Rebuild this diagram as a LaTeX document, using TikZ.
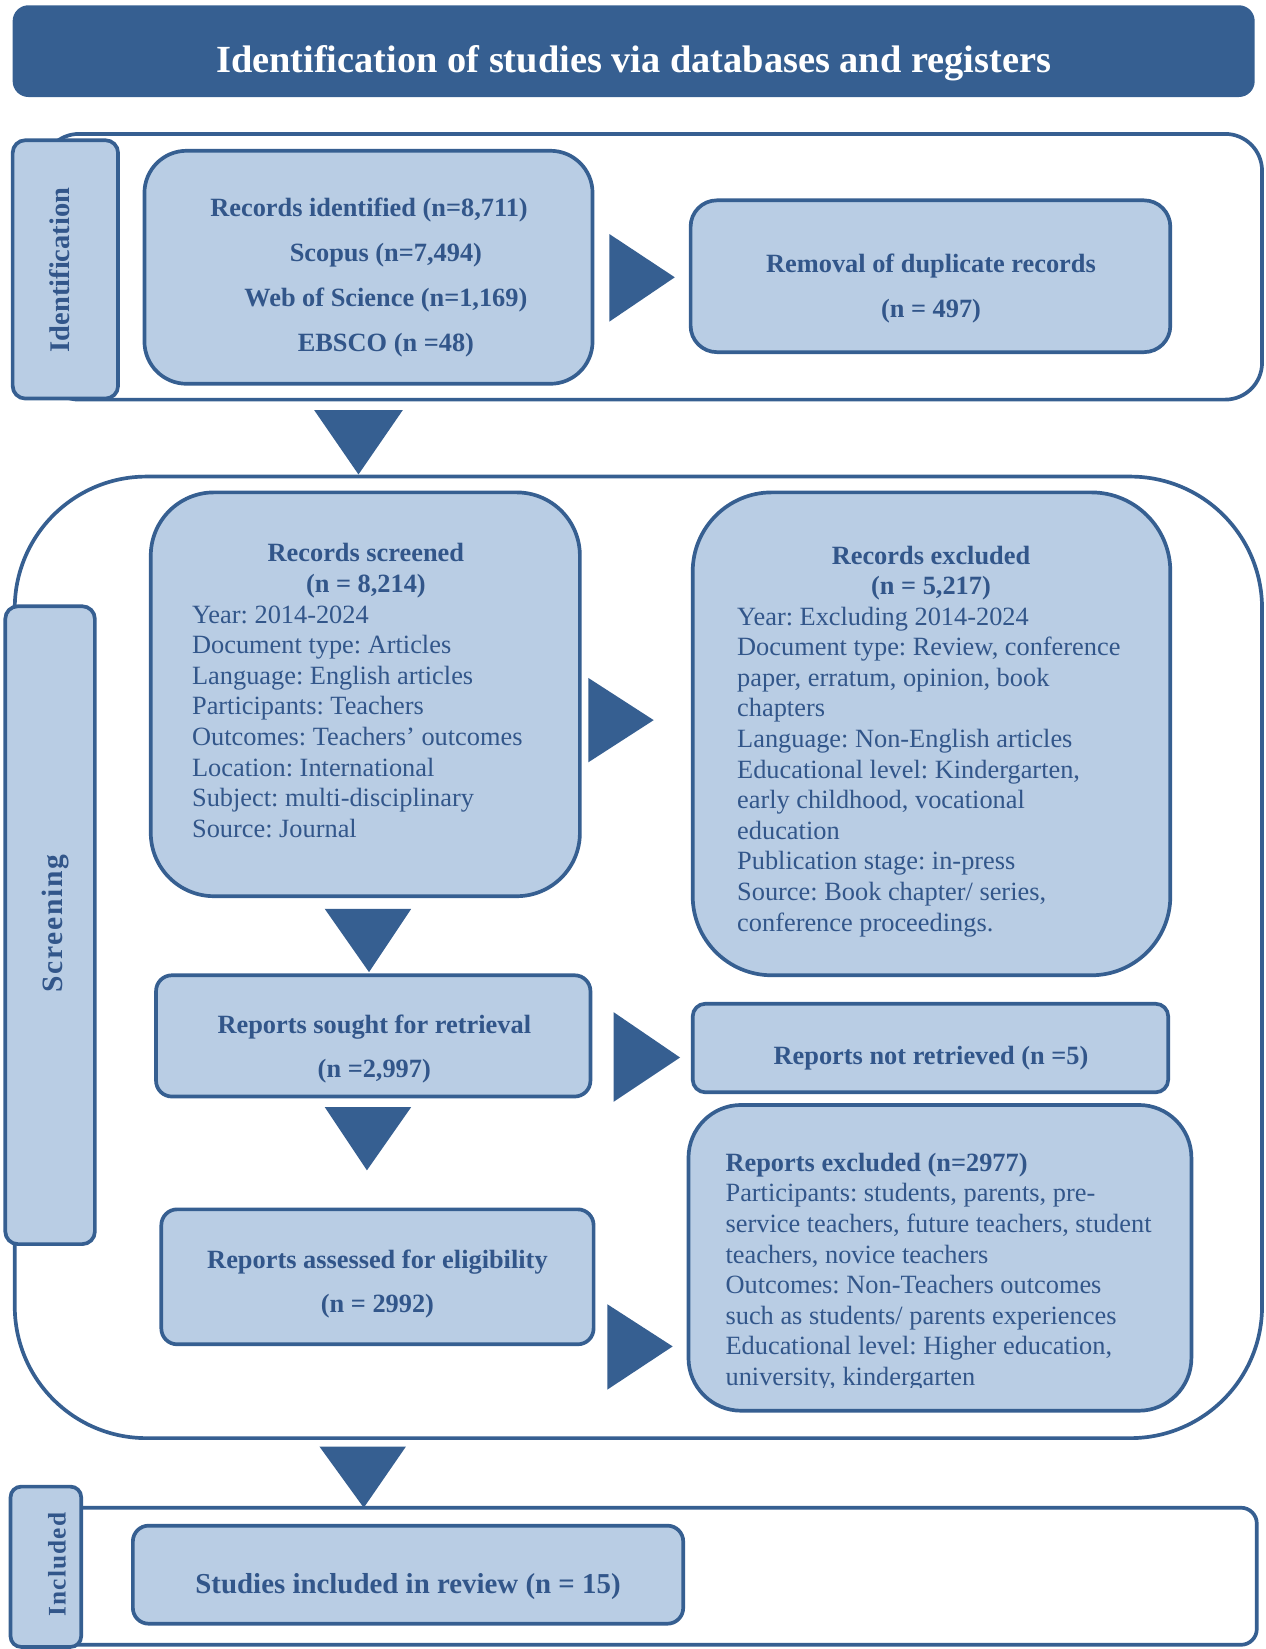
\documentclass[tikz,border=0pt]{standalone}
\usepackage{fontspec}
\setmainfont{Liberation Serif}
\usetikzlibrary{fit}
\definecolor{dk}{RGB}{54,95,145}
\definecolor{lt}{RGB}{185,205,228}
\definecolor{tx}{RGB}{50,86,138}
\frenchspacing
\begin{document}
\begin{tikzpicture}[x=1pt,y=-1pt,
  box/.style={draw=dk, line width=3.5pt, fill=lt, inner sep=0pt},
  outerbox/.style={draw=dk, line width=3.5pt, fill=white, inner sep=0pt},
  tri/.style={fill=dk, draw=none},
  bt/.style={font=\fontsize{25}{29}\selectfont\bfseries, text=tx, inner sep=0pt, anchor=base},
  btl/.style={font=\fontsize{25}{29}\selectfont\bfseries, text=tx, inner sep=0pt, anchor=base west},
  rt/.style={font=\fontsize{25}{29}\selectfont, text=tx, inner sep=0pt, anchor=base west},
  vlab/.style={text=tx, inner sep=0pt, rotate=90, anchor=center},
]
\useasboundingbox (0,0) rectangle (1200,1564);

% title
\node[fill=dk, rounded corners=15pt, inner sep=0pt, fit={(12,5) (1190,92)}] (title) {};
\node[font=\fontsize{36.4}{40}\selectfont\bfseries, text=white, inner sep=0pt, anchor=base] (titletxt) at (601,69) {Identification of studies via databases and registers};

% ---------- Identification ----------
\node[outerbox, rounded corners=35pt, fit={(40,127) (1197,379)}] (idstage) {};
\node[box, rounded corners=12pt, fit={(12,133) (112,378)}] (idlab) {};
\node[vlab, font=\fontsize{27}{29}\selectfont\bfseries] (idlabtxt) at (57,256) {Identification};

\node[box, rounded corners=40pt, fit={(137,143) (562,364)}] (recid) {};
\node[bt] (recid1) at (350,205) {Records identified (n=8,711)};
\node[bt] (recid2) at (366,248) {Scopus (n=7,494)};
\node[bt] (recid3) at (366,291) {Web of Science (n=1,169)};
\node[bt] (recid4) at (366,333) {EBSCO (n =48)};

\fill[tri] (578,222) -- (578,305) -- (640,263) -- cycle;

\node[box, rounded corners=25pt, fit={(655,190) (1110,334)}] (dup) {};
\node[bt] (dup1) at (883,258) {Removal of duplicate records};
\node[bt] (dup2) at (883,301) {(n = 497)};

\fill[tri] (298,389) -- (382,389) -- (340,450) -- cycle;

% ---------- Screening ----------
\node[outerbox, rounded corners=125pt, fit={(14,452) (1197,1364)}] (scstage) {};
\node[box, rounded corners=12pt, fit={(5,575) (90,1180)}] (sclab) {};
\node[vlab, font=\fontsize{28}{29}\selectfont\bfseries\addfontfeatures{LetterSpace=6}] (sclabtxt) at (53,876) {Screening};

\node[box, rounded corners=60pt, fit={(143,467) (550,850)}] (scr) {};
\node[bt] (scr1) at (347,533) {Records screened};
\node[bt] (scr2) at (347,562) {(n = 8,214)};
\foreach \t [count=\i] in {Year: 2014-2024, Document type: Articles, Language: English articles, Participants: Teachers, Outcomes: Teachers’ outcomes, Location: International, Subject: multi-disciplinary, Source: Journal}
  \node[rt] (scrl\i) at (182,{591+29*(\i-1)}) {\t};

\fill[tri] (558,643) -- (558,723) -- (620,683) -- cycle;

\node[box, rounded corners=75pt, fit={(657,467) (1110,925)}] (rex) {};
\node[bt] (rex1) at (883,535) {Records excluded};
\node[bt] (rex2) at (883,564) {(n = 5,217)};
\foreach \t [count=\i] in {Year: Excluding 2014-2024, {Document type: Review, conference}, {paper, erratum, opinion, book}, chapters, Language: Non-English articles, {Educational level: Kindergarten,}, {early childhood, vocational}, education, Publication stage: in-press, {Source: Book chapter/ series,}, conference proceedings.}
  \node[rt] (rexl\i) at (699,{593+29*(\i-1)}) {\t};

\fill[tri] (308,862) -- (390,862) -- (350,922) -- cycle;

\node[box, rounded corners=15pt, fit={(148,925) (560,1040)}] (sought) {};
\node[bt] (sought1) at (355,980) {Reports sought for retrieval};
\node[bt] (sought2) at (355,1022) {(n =2,997)};

\fill[tri] (582,960) -- (582,1045) -- (645,1003) -- cycle;

\node[box, rounded corners=12pt, fit={(657,952) (1108,1036)}] (notret) {};
\node[bt] (notret1) at (883,1010) {Reports not retrieved (n =5)};

\fill[tri] (308,1050) -- (390,1050) -- (348,1110) -- cycle;

\node[box, rounded corners=15pt, fit={(153,1147) (563,1275)}] (assess) {};
\node[bt] (assess1) at (358,1203) {Reports assessed for eligibility};
\node[bt] (assess2) at (358,1245) {(n = 2992)};

\fill[tri] (576,1237) -- (576,1318) -- (638,1277) -- cycle;

\node[box, rounded corners=50pt, fit={(653,1048) (1130,1338)}] (repex) {};
\begin{scope}
\clip (653,1048) rectangle (1130,1316);
\node[btl] (repex0) at (688,1111) {Reports excluded (n=2977)};
\foreach \t [count=\i] in {{Participants: students, parents, pre-}, {service teachers, future teachers, student}, {teachers, novice teachers}, Outcomes: Non-Teachers outcomes, such as students/ parents experiences, {Educational level: Higher education,}, {university, kindergarten}}
  \node[rt] (repexl\i) at (688,{1140+29*(\i-1)}) {\t};
\end{scope}

\fill[tri] (303,1372) -- (385,1372) -- (345,1430) -- cycle;

% ---------- Included ----------
\node[outerbox, rounded corners=15pt, fit={(60,1430) (1192,1560)}] (instage) {};
\node[box, rounded corners=10pt, fit={(10,1410) (77,1562)}] (inlab) {};
\node[vlab, font=\fontsize{24}{29}\selectfont\bfseries\addfontfeatures{LetterSpace=5}] (inlabtxt) at (54,1484) {Included};

\node[box, rounded corners=15pt, fit={(126,1447) (648,1540)}] (incl) {};
\node[font=\fontsize{27.4}{30}\selectfont\bfseries, text=tx, inner sep=0pt, anchor=base] (incl1) at (387,1511) {Studies included in review (n = 15)};

\end{tikzpicture}
\end{document}
